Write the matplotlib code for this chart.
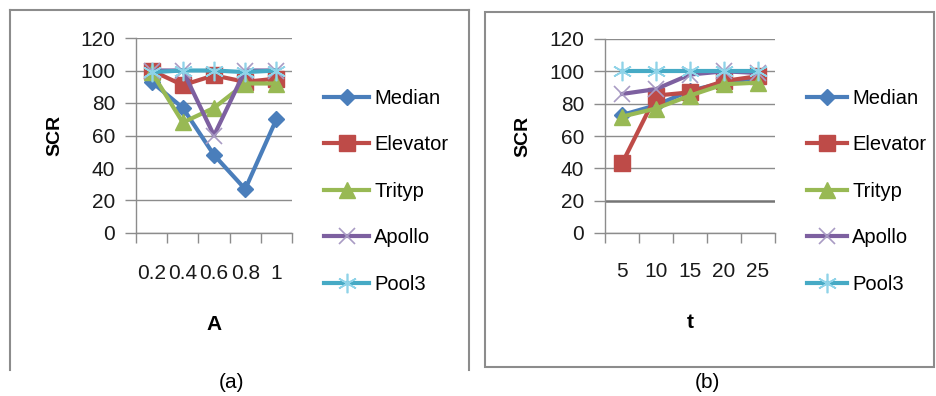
import matplotlib
matplotlib.use("Agg")
import matplotlib.pyplot as plt
from matplotlib.lines import Line2D
from matplotlib.patches import Rectangle

plt.rcParams['font.family'] = ['Liberation Sans', 'DejaVu Sans']

series = ["Median", "Elevator", "Trityp", "Apollo", "Pool3"]
a_labels = ["0.2", "0.4", "0.6", "0.8", "1"]
a_median = [93, 77, 48, 27, 70]
a_elevator = [100, 91, 97, 93, 95]
a_trityp = [99, 68, 77, 92, 92]
a_apollo = [100, 100, 60, 100, 100]
a_pool3 = [99, 100, 100, 99, 100]

b_labels = ["5", "10", "15", "20", "25"]
b_median = [73, 79, 88, 93, 96]
b_elevator = [43, 85, 87, 94, 97]
b_trityp = [72, 77, 85, 92, 93]
b_apollo = [86, 89, 98, 100, 99]
b_pool3 = [100, 100, 100, 100, 100]

yticks = [0, 20, 40, 60, 80, 100, 120]

colors = ["#4A7EBB", "#BE4B48", "#98B954", "#7D60A0", "#46AAC5"]
mcolors = ["#4A7EBB", "#BE4B48", "#98B954", "#A99BC4", "#8FD3E8"]
markers = ["D", "s", "^", "x", (6, 2, 0)]
msizes = [8, 11, 11, 11, 14]

W, H = 936, 396
fig = plt.figure(figsize=(W / 100, H / 100), dpi=100)

def fx(px):
    return px / W

def fy(py):
    return 1 - py / H

border = "#8C8C8C"
# panel borders
fig.add_artist(Line2D([fx(10), fx(10)], [fy(10), fy(370)], color=border, lw=1.5, transform=fig.transFigure))
fig.add_artist(Line2D([fx(10), fx(469)], [fy(10), fy(10)], color=border, lw=1.5, transform=fig.transFigure))
fig.add_artist(Line2D([fx(469), fx(469)], [fy(10), fy(370)], color=border, lw=1.5, transform=fig.transFigure))
fig.add_artist(Rectangle((fx(485), fy(367)), fx(934) - fx(485), fy(12) - fy(367), fill=False,
                         edgecolor=border, lw=1.5, transform=fig.transFigure))

def panel(left, right, top, bottom, labels, data, xlabel, ylabel_x, leg_x, leg_hl, xlab_y, tick_y, dark20=False):
    ax = fig.add_axes([fx(left), fy(bottom), fx(right) - fx(left), fy(top) - fy(bottom)])
    xs = list(range(1, len(labels) + 1))
    for i, (name, vals) in enumerate(zip(series, data)):
        ax.plot(xs, vals, color=colors[i], lw=3, marker=markers[i], markersize=msizes[i],
                markerfacecolor=mcolors[i], markeredgecolor=mcolors[i],
                markeredgewidth=1.2 if i >= 3 else 1, label=name, zorder=3 + i, clip_on=False)
    ax.set_xlim(0.5, len(labels) + 0.5)
    ax.set_ylim(0, 120)
    ax.set_yticks(yticks)
    ax.set_yticklabels([str(v) for v in yticks], fontsize=15, color="#1A1A1A")
    ax.set_xticks(xs)
    ax.set_xticklabels(labels, fontsize=15, color="#1A1A1A")
    ax.set_xticks([x + 0.5 for x in range(0, len(labels) + 1)], minor=True)
    ax.tick_params(axis='x', which='major', length=0, pad=(tick_y - bottom) * 0.72 - 8)
    ax.tick_params(axis='x', which='minor', length=7, width=1, color="#8C8C8C", direction='out')
    ax.tick_params(axis='y', which='major', length=8, width=1, color="#8C8C8C", pad=7)
    for s in ["top", "right"]:
        ax.spines[s].set_visible(False)
    for s in ["left", "bottom"]:
        ax.spines[s].set_color("#8C8C8C")
        ax.spines[s].set_linewidth(1)
    ax.grid(axis='y', color="#8C8C8C", lw=1)
    ax.set_axisbelow(True)
    if dark20:
        g = ax.get_ygridlines()[1]
        g.set_color("#757575")
        g.set_linewidth(1.8)
    fig.text(fx(ylabel_x), fy((top + bottom) / 2), "SCR", rotation=90, fontsize=14, fontweight='bold',
             ha='center', va='center')
    fig.text(fx((left + right) / 2), fy(xlab_y), xlabel, fontsize=15, fontweight='bold',
             ha='center', va='center')
    ax.legend(loc='upper left', bbox_to_anchor=(fx(leg_x), fy(89)), bbox_transform=fig.transFigure,
              frameon=False, fontsize=14.5, handlelength=leg_hl, handletextpad=0.25,
              labelspacing=1.36, borderaxespad=0, borderpad=0)
    return ax

panel(136, 292, 38, 233, a_labels, [a_median, a_elevator, a_trityp, a_apollo, a_pool3],
      "A", 55, 324, 2.25, 325, 275)
panel(605, 775, 39, 233, b_labels, [b_median, b_elevator, b_trityp, b_apollo, b_pool3],
      "t", 523, 807, 2.0, 322, 273, dark20=True)

fig.text(fx(232), fy(383), "(a)", fontsize=15, ha='center', va='center')
fig.text(fx(707), fy(383), "(b)", fontsize=15, ha='center', va='center')

fig.savefig("out.png", dpi=100)
